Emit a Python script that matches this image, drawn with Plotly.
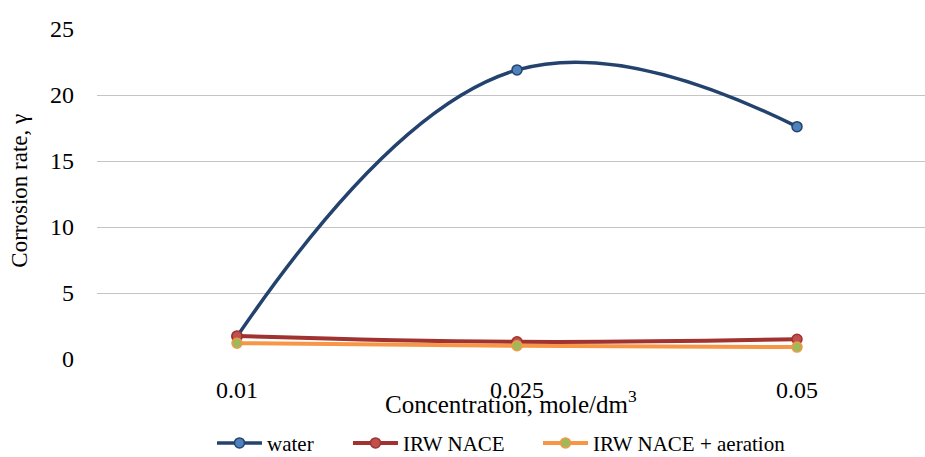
import plotly.graph_objects as go

categories = ["0.01", "0.025", "0.05"]
water = [1.7, 21.9, 17.6]
irw_nace = [1.75, 1.3, 1.5]
irw_nace_aeration = [1.2, 1.0, 0.9]
y_ticks = [0, 5, 10, 15, 20, 25]

idx = list(range(len(categories)))
font_family = "'Times New Roman', 'Liberation Serif', 'DejaVu Serif', serif"

fig = go.Figure()
series = [
    ("water", water, "#23436E", "#4F81BD", "#23436E", 3.5, "legend"),
    ("IRW NACE", irw_nace, "#A0322F", "#C0504D", "#A0322F", 4, "legend2"),
    ("IRW NACE + aeration", irw_nace_aeration, "#F79646", "#9BBB59", "#F79646", 4, "legend3"),
]
for name, vals, lc, mc, mlc, lw, lg in series:
    fig.add_trace(go.Scatter(
        x=idx, y=vals, name=name, mode="lines+markers", legend=lg,
        line=dict(color=lc, width=lw, shape="spline", smoothing=1.2),
        marker=dict(size=10, color=mc, line=dict(color=mlc, width=1.5)),
    ))

def leg(xpx):
    return dict(orientation="h", x=(xpx - 97) / 828, xanchor="left", y=0.03,
                yanchor="middle", yref="container",
                font=dict(size=21, family=font_family), itemwidth=45,
                bgcolor="rgba(0,0,0,0)")

fig.update_layout(
    width=925, height=457,
    margin=dict(l=97, r=0, t=29, b=98, autoexpand=False),
    paper_bgcolor="white", plot_bgcolor="white",
    font=dict(family=font_family, size=22, color="#000000"),
    showlegend=True,
    legend=leg(212),
    legend2=leg(348),
    legend3=leg(538),
    xaxis=dict(
        range=[-0.5, -0.5 + 828 / 280], tickvals=idx, ticktext=categories,
        showgrid=False, zeroline=False, showline=False, ticks="",
        tickfont=dict(size=24, family=font_family), ticklabelstandoff=14, fixedrange=True,
    ),
    yaxis=dict(
        range=[0, 25], tickvals=y_ticks, showgrid=True, gridcolor="#C4C4C4",
        gridwidth=1.3, zeroline=False, showline=False, ticks="",
        tickfont=dict(size=24, family=font_family), ticklabelstandoff=22,
    ),
    annotations=[
        dict(
            text="Concentration, mole/dm<sup>3</sup>", xref="paper", yref="paper",
            x=0.5, y=-0.13, xanchor="center", yanchor="middle", showarrow=False,
            font=dict(size=25, family=font_family),
        ),
        dict(
            text="Corrosion rate, γ", xref="paper", yref="paper",
            x=-0.093, y=0.51, xanchor="center", yanchor="middle", showarrow=False,
            textangle=-90, font=dict(size=23, family=font_family),
        ),
    ],
)

fig.write_html("out.html")
